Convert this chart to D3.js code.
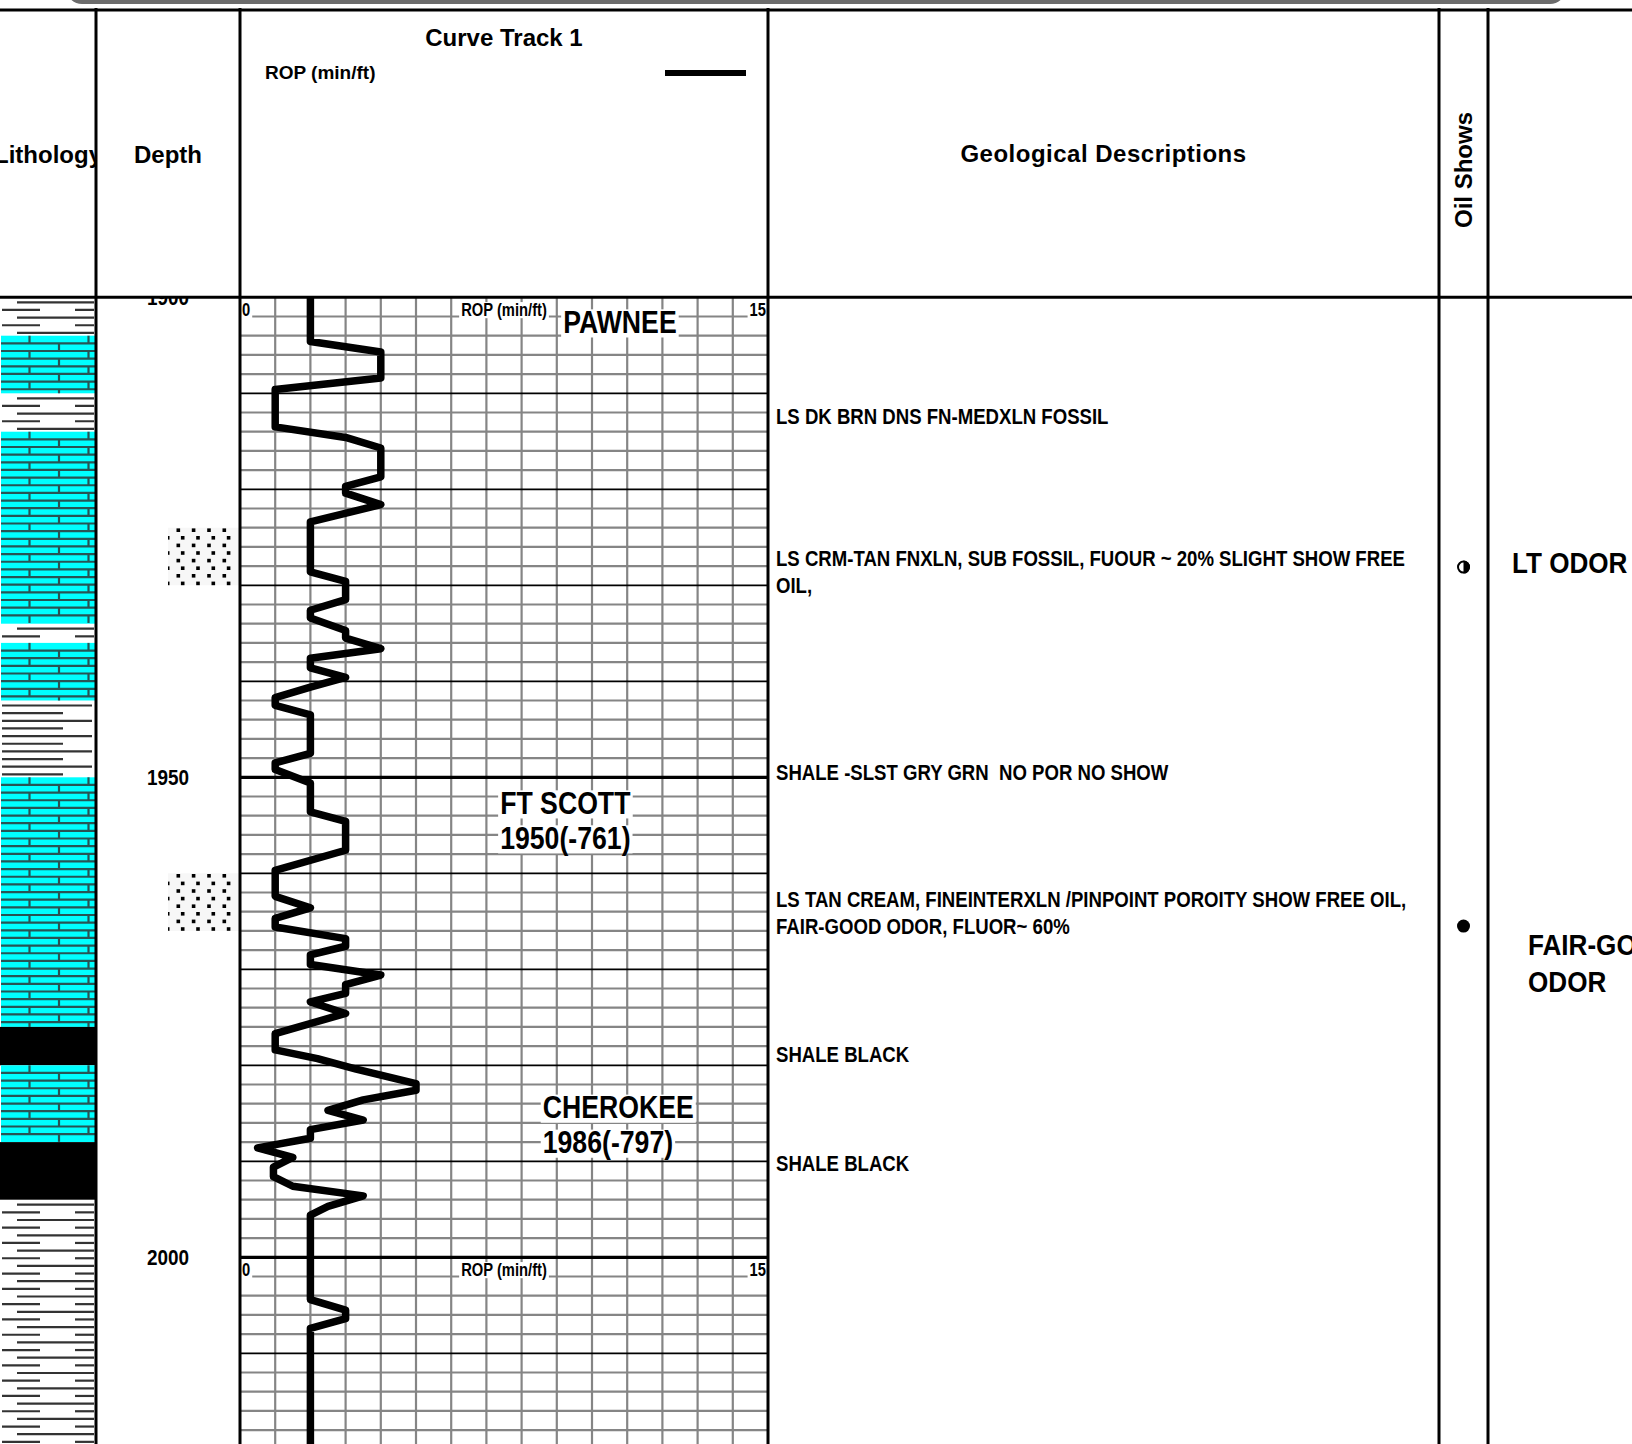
<!DOCTYPE html>
<html>
<head>
<meta charset="utf-8">
<script src="https://cdn.jsdelivr.net/npm/d3@7"></script>
<style>
  html, body { margin: 0; padding: 0; background: #fff; overflow: hidden; }
  svg { display: block; }
</style>
</head>
<body>
<svg id="chart" width="1632" height="1444"></svg>
<script>
const ropDepth = [1900, 1904.6, 1905.7, 1908.4, 1909.6, 1913.5, 1914.6, 1915.7, 1918.7, 1919.7,
  1920.4, 1921.6, 1923.4, 1928.6, 1929.6, 1931.5, 1932.6, 1933.4, 1934.7, 1935.5,
  1936.6, 1937.6, 1938.6, 1939.6, 1940.6, 1941.7, 1942.5, 1943.5, 1947.5, 1948.5,
  1949.2, 1950.6, 1953.6, 1954.6, 1957.6, 1959.7, 1962.4, 1963.6, 1964.7, 1965.6,
  1966.8, 1967.6, 1968.5, 1969.5, 1970.6, 1971.6, 1972.5, 1973.4, 1974.6, 1976.7,
  1978.4, 1979.3, 1980.4, 1981.9, 1982.6, 1983.6, 1984.7, 1985.7, 1986.7, 1987.6,
  1988.6, 1989.6, 1990.6, 1991.6, 1992.6, 1993.6, 1994.7, 1995.6, 2004.4, 2005.5,
  2006.4, 2007.4, 2020];
const ropValue = [2, 2, 4, 4, 1, 1, 3, 4, 4, 3,
  3, 4, 2, 2, 3, 3, 2, 2, 3, 3,
  4, 2, 2, 3, 2, 1, 1, 2, 2, 1,
  1, 2, 2, 3, 3, 1, 1, 2, 1, 1,
  3, 3, 2, 2, 4, 3, 3, 2, 3, 1,
  1, 2.2, 3.3, 5, 5, 3.5, 2.5, 3.5, 2, 2,
  0.5, 1.5, 0.95, 0.95, 1.5, 3.5, 2.5, 2, 2, 3,
  3, 2, 2];

const lithTop  = [1900, 1904, 1910, 1914, 1934, 1936, 1942, 1950, 1976, 1980, 1988, 1994];
const lithBase = [1904, 1910, 1914, 1934, 1936, 1942, 1950, 1976, 1980, 1988, 1994, 2020];
const lithType = ['shale', 'lime', 'shale', 'lime', 'shale', 'lime', 'siltyShale', 'lime',
  'blackShale', 'lime', 'blackShale', 'shale'];

const porosityTop  = [1924, 1960];
const porosityBase = [1930, 1966];

const depthLabels = [1900, 1950, 2000];
const scaleLabelDepths = [1900, 2000];

const topNames = ['PAWNEE', 'FT SCOTT', 'CHEROKEE'];
const topSubs  = ['', '1950(-761)', '1986(-797)'];
const topDepth = [1902.6, 1952.7, 1984.4];
const topAt    = [9.18, 7.39, 8.6];   // ROP value where the label starts

const descLines = [
  ['LS DK BRN DNS FN-MEDXLN FOSSIL'],
  ['LS CRM-TAN FNXLN, SUB FOSSIL, FUOUR ~ 20% SLIGHT SHOW FREE', 'OIL,'],
  ['SHALE -SLST GRY GRN  NO POR NO SHOW'],
  ['LS TAN CREAM, FINEINTERXLN /PINPOINT POROITY SHOW FREE OIL,', 'FAIR-GOOD ODOR, FLUOR~ 60%'],
  ['SHALE BLACK'],
  ['SHALE BLACK']
];
const descDepth = [1912.4, 1927.2, 1949.5, 1962.7, 1978.9, 1990.2];

const showDepth = [1928.1, 1965.5];
const showType  = ['half', 'full'];
const noteLines = [['LT ODOR'], ['FAIR-GOOD', 'ODOR']];
const noteDepth = [1927.7, 1967.5];

// ---- layout ----
const W = 1632, H = 1444;
const headTop = 10, headBottom = 297.3;
const colEdges = [96, 240, 768, 1439, 1488];
const noteX = [1512, 1528];
const FONT = '"Liberation Sans", Arial, Helvetica, sans-serif';

const y = d3.scaleLinear().domain([1900, 2020]).range([headBottom, headBottom + 120 * 9.6]);
const x = d3.scaleLinear().domain([0, 15]).range([colEdges[1], colEdges[2]]);

const svg = d3.select('#chart');
const defs = svg.append('defs');

// helper for bold (optionally condensed) text
const label = (g, str, px, py, { size = 20, sx = 1, anchor = 'start', weight = 'bold', spacing = 0 } = {}) =>
  g.append('text')
    .attr('transform', `translate(${px},${py}) scale(${sx},1)`)
    .attr('text-anchor', anchor)
    .attr('dy', '0.35em')
    .style('font-family', FONT)
    .style('font-size', `${size}px`)
    .style('font-weight', weight)
    .style('letter-spacing', `${spacing}px`)
    .style('white-space', 'pre')
    .attr('fill', '#000')
    .text(str);

// text with white box behind it
const boxedLabel = (g, str, px, py, opts) => {
  const holder = g.append('g');
  const bg = holder.append('rect').attr('fill', '#fff');
  const t = label(holder, str, px, py, opts);
  const b = t.node().getBBox();
  const sx = opts.sx || 1;
  bg.attr('x', px + b.x * sx - 2).attr('y', py + b.y + b.height * 0.12)
    .attr('width', b.width * sx + 4).attr('height', b.height * 0.82);
  return t;
};

defs.append('clipPath').attr('id', 'bodyClip')
  .append('rect').attr('x', 0).attr('y', headBottom).attr('width', W).attr('height', H - headBottom);
defs.append('clipPath').attr('id', 'lithHeadClip')
  .append('rect').attr('x', 0).attr('y', headTop).attr('width', colEdges[0]).attr('height', headBottom - headTop);

const body = svg.append('g').attr('clip-path', 'url(#bodyClip)');

// ---- lithology column ----
const lith = body.append('g');
const rowStep = 7.65;
lithTop.forEach((t, i) => {
  const y0 = y(t), y1 = y(lithBase[i]), type = lithType[i];
  if (type === 'blackShale') {
    lith.append('rect').attr('x', 0).attr('y', y0).attr('width', colEdges[0]).attr('height', y1 - y0).attr('fill', '#000');
  } else if (type === 'lime') {
    lith.append('rect').attr('x', 1).attr('y', y0).attr('width', colEdges[0] - 2).attr('height', y1 - y0).attr('fill', '#00ffff');
    const rows = d3.range(y0, y1 - 1, rowStep);
    rows.forEach((ry, k) => {
      if (k > 0) {
        lith.append('line').attr('x1', 1).attr('x2', colEdges[0]).attr('y1', ry).attr('y2', ry)
          .attr('stroke', '#275454').attr('stroke-width', 2.2);
      }
      const ticks = k % 2 === 0 ? [29.5, 88.5] : [59];
      const yEnd = Math.min(ry + rowStep, y1);
      ticks.forEach(tx => lith.append('line').attr('x1', tx).attr('x2', tx).attr('y1', ry).attr('y2', yEnd)
        .attr('stroke', '#275454').attr('stroke-width', 2.2));
    });
  } else {
    const rows = d3.range(y0 + 5, y1 - 1, rowStep);
    rows.forEach((ry, k) => {
      let segs;
      if (type === 'shale') segs = k % 2 === 0 ? [[17, 94]] : [[2, 40], [75, 94]];
      else segs = k % 2 === 0 ? [[2, 92]] : [[2, 63]];
      segs.forEach(([a, b]) => lith.append('line').attr('x1', a).attr('x2', b).attr('y1', ry).attr('y2', ry)
        .attr('stroke', '#333').attr('stroke-width', 2.2));
    });
  }
});

// ---- depth column ----
const depthG = body.append('g');
porosityTop.forEach((t, i) => {
  const y0 = y(t), y1 = y(porosityBase[i]);
  depthG.append('rect').attr('x', 168).attr('y', y0).attr('width', colEdges[1] - 168).attr('height', y1 - y0)
    .attr('fill', '#f7f7f7');
  d3.range(y0 + 2.5, y1, 7.6).forEach((ry, k) => {
    const xs = k % 2 === 0 ? [178.3, 193.6, 209, 224.3] : [168.5, 182.7, 198, 213.3, 228.6];
    xs.forEach(dx => depthG.append('rect').attr('x', Math.max(168, dx - 1.8)).attr('y', ry - 1.8)
      .attr('width', dx - 1.8 < 168 ? 1.5 : 3.6).attr('height', 3.6).attr('fill', '#000'));
  });
});
depthLabels.forEach(d => label(depthG, String(d), 168, y(d), { size: 22, sx: 0.86, anchor: 'middle' }));

// ---- curve track grid ----
const grid = body.append('g');
d3.range(1, 15).forEach(v => grid.append('line')
  .attr('x1', x(v)).attr('x2', x(v)).attr('y1', headBottom).attr('y2', H)
  .attr('stroke', '#858585').attr('stroke-width', 2.2));
d3.range(1902, 2020, 2).filter(d => d % 10 !== 0).forEach(d => grid.append('line')
  .attr('x1', x(0)).attr('x2', x(15)).attr('y1', y(d)).attr('y2', y(d))
  .attr('stroke', '#858585').attr('stroke-width', 2.2));
d3.range(1910, 2020, 10).forEach(d => grid.append('line')
  .attr('x1', x(0)).attr('x2', x(15)).attr('y1', y(d)).attr('y2', y(d))
  .attr('stroke', '#000').attr('stroke-width', d % 50 === 0 ? 3.2 : 1.8));

// scale labels
scaleLabelDepths.forEach(d => {
  const ly = y(d) + 12.5;
  boxedLabel(grid, '0', x(0) + 2, ly, { size: 18, sx: 0.82 });
  boxedLabel(grid, 'ROP (min/ft)', x(7.5), ly, { size: 18, sx: 0.82, anchor: 'middle' });
  boxedLabel(grid, '15', x(15) - 2, ly, { size: 18, sx: 0.82, anchor: 'end' });
});

// formation tops
topNames.forEach((name, i) => {
  const ty = y(topDepth[i]);
  boxedLabel(grid, name, x(topAt[i]), ty, { size: 31, sx: 0.86 });
  if (topSubs[i]) boxedLabel(grid, topSubs[i], x(topAt[i]), ty + 35, { size: 31, sx: 0.86 });
});

// ROP curve
const ropPoints = ropDepth.map((d, i) => ({ d, v: ropValue[i] }));
const ropLine = d3.line().x(p => x(p.v)).y(p => y(p.d));
body.append('path').datum(ropPoints)
  .attr('d', ropLine)
  .attr('fill', 'none')
  .attr('stroke', '#000')
  .attr('stroke-width', 7.5)
  .attr('stroke-linejoin', 'round');

// ---- geological descriptions ----
const descG = body.append('g');
descLines.forEach((lines, i) => {
  lines.forEach((s, j) => label(descG, s, colEdges[2] + 8, y(descDepth[i]) + j * 27, { size: 22, sx: 0.845 }));
});

// ---- oil shows ----
const showG = body.append('g');
const showX = (colEdges[3] + colEdges[4]) / 2;
showDepth.forEach((d, i) => {
  const cy = y(d), r = 6.5;
  if (showType[i] === 'full') {
    showG.append('circle').attr('cx', showX).attr('cy', cy).attr('r', r).attr('fill', '#000');
  } else {
    showG.append('circle').attr('cx', showX).attr('cy', cy).attr('r', r - 1).attr('fill', '#fff')
      .attr('stroke', '#000').attr('stroke-width', 2);
    const arc = d3.arc()({ innerRadius: 0, outerRadius: r, startAngle: 0, endAngle: Math.PI });
    showG.append('path').attr('d', arc).attr('transform', `translate(${showX},${cy})`).attr('fill', '#000');
  }
});
noteLines.forEach((lines, i) => {
  lines.forEach((s, j) => label(showG, s, noteX[i], y(noteDepth[i]) + j * 37, { size: 29, sx: 0.9 }));
});

// ---- header ----
const head = svg.append('g');
head.append('rect').attr('x', 68).attr('y', -60).attr('width', 1496).attr('height', 62).attr('rx', 14)
  .attr('fill', 'none').attr('stroke', '#6c6c6c').attr('stroke-width', 4);

label(head.append('g').attr('clip-path', 'url(#lithHeadClip)'), 'Lithology', colEdges[0] / 2, 155, { size: 24, anchor: 'middle' });
label(head, 'Depth', (colEdges[0] + colEdges[1]) / 2, 155, { size: 24, anchor: 'middle' });
label(head, 'Curve Track 1', (colEdges[1] + colEdges[2]) / 2, 37.5, { size: 24, anchor: 'middle' });
label(head, 'ROP (min/ft)', 265, 72, { size: 19 });
head.append('line').attr('x1', 665).attr('x2', 746).attr('y1', 73).attr('y2', 73)
  .attr('stroke', '#000').attr('stroke-width', 6);
label(head, 'Geological Descriptions', (colEdges[2] + colEdges[3]) / 2, 154, { size: 24, anchor: 'middle', spacing: 0.5 });
head.append('text')
  .attr('transform', `translate(${(colEdges[3] + colEdges[4]) / 2},170) rotate(-90)`)
  .attr('text-anchor', 'middle').attr('dy', '0.35em')
  .style('font-family', FONT).style('font-size', '24px').style('font-weight', 'bold')
  .text('Oil Shows');

// frame
head.append('line').attr('x1', 0).attr('x2', W).attr('y1', headTop).attr('y2', headTop)
  .attr('stroke', '#000').attr('stroke-width', 3);
head.append('line').attr('x1', 0).attr('x2', W).attr('y1', headBottom).attr('y2', headBottom)
  .attr('stroke', '#000').attr('stroke-width', 3);
colEdges.forEach(cx => head.append('line').attr('x1', cx).attr('x2', cx).attr('y1', headTop - 2).attr('y2', H)
  .attr('stroke', '#000').attr('stroke-width', 3));
</script>
</body>
</html>
